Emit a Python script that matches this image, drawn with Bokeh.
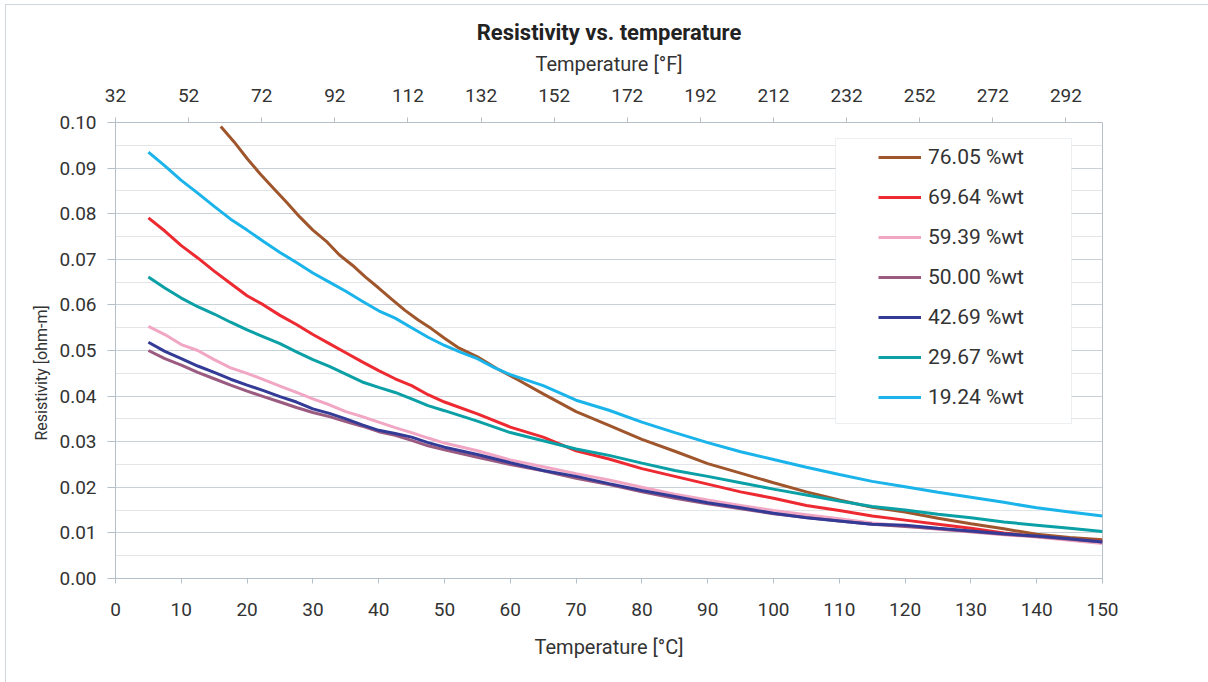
from bokeh.plotting import figure
from bokeh.models import (Range1d, LinearAxis, FixedTicker, PrintfTickFormatter,
                          Legend, LegendItem, BoxAnnotation, Title)
from bokeh.embed import file_html
from bokeh.resources import INLINE

# ---------------- data ----------------
C_TICKS = [0, 10, 20, 30, 40, 50, 60, 70, 80, 90, 100, 110, 120, 130, 140, 150]
F_TICKS = [32, 52, 72, 92, 112, 132, 152, 172, 192, 212, 232, 252, 272, 292]
R_TICKS = [0.00, 0.01, 0.02, 0.03, 0.04, 0.05, 0.06, 0.07, 0.08, 0.09, 0.10]
R_MINOR = [0.005, 0.015, 0.025, 0.035, 0.045, 0.055, 0.065, 0.075, 0.085, 0.095]

T_std = [5, 7.5, 10, 12.5, 15, 17.5, 20, 22.5, 25, 27.5, 30, 32.5, 35, 37.5, 40, 42.5, 45, 47.5, 50,
         55, 60, 65, 70, 75, 80, 85, 90, 95, 100, 105, 110, 115, 120, 125, 130, 135, 140, 145, 150]

T_7605 = [16, 18, 20, 22, 24, 26, 28, 30, 32, 34, 36, 38, 40, 42, 44, 46, 48, 50,
          52, 55, 58, 61, 65, 70, 75, 80, 85, 90, 95, 100, 105, 110, 115, 120, 125, 130, 135, 140, 145, 150]
R_7605 = [0.0991, 0.0958, 0.0921, 0.0887, 0.0856, 0.0825, 0.0793, 0.0764, 0.0740, 0.0710, 0.0687, 0.0661,
          0.0637, 0.0612, 0.0588, 0.0567, 0.0548, 0.0527,
          0.0507, 0.0486, 0.0460, 0.0437,
          0.0405, 0.0366, 0.0336, 0.0305, 0.0279, 0.0252, 0.0231, 0.0210, 0.0190, 0.0172, 0.0156, 0.0146,
          0.0132, 0.0120, 0.0109, 0.0097, 0.0090, 0.0085]

R_6964 = [0.0791, 0.0762, 0.0730, 0.0703, 0.0674, 0.0647, 0.0620, 0.0600, 0.0577, 0.0557, 0.0535, 0.0515,
          0.0495, 0.0475, 0.0456, 0.0438, 0.0423, 0.0403, 0.0387,
          0.0361, 0.0332, 0.0310, 0.0280, 0.0262, 0.0241, 0.0224, 0.0207, 0.0190, 0.0176, 0.0160, 0.0149,
          0.0137, 0.0128, 0.0119, 0.0110, 0.0100, 0.0092, 0.0086, 0.0081]

R_5939 = [0.0553, 0.0535, 0.0513, 0.0500, 0.0480, 0.0462, 0.0450, 0.0436, 0.0422, 0.0408, 0.0394, 0.0381,
          0.0366, 0.0355, 0.0343, 0.0331, 0.0320, 0.0308, 0.0297,
          0.0280, 0.0260, 0.0245, 0.0230, 0.0216, 0.0200, 0.0185, 0.0172, 0.0160, 0.0149, 0.0140, 0.0131,
          0.0122, 0.0115, 0.0108, 0.0102, 0.0096, 0.0091, 0.0084, 0.0077]

R_5000 = [0.0500, 0.0482, 0.0468, 0.0452, 0.0438, 0.0424, 0.0411, 0.0399, 0.0387, 0.0375, 0.0364, 0.0355,
          0.0344, 0.0334, 0.0322, 0.0314, 0.0303, 0.0291, 0.0282,
          0.0266, 0.0250, 0.0236, 0.0220, 0.0206, 0.0190, 0.0176, 0.0164, 0.0153, 0.0142, 0.0134, 0.0126,
          0.0119, 0.0114, 0.0109, 0.0103, 0.0097, 0.0092, 0.0086, 0.0080]

R_4269 = [0.0518, 0.0498, 0.0482, 0.0466, 0.0452, 0.0437, 0.0424, 0.0412, 0.0399, 0.0387, 0.0372, 0.0362,
          0.0350, 0.0337, 0.0325, 0.0318, 0.0310, 0.0298, 0.0288,
          0.0272, 0.0254, 0.0237, 0.0224, 0.0208, 0.0193, 0.0180, 0.0166, 0.0155, 0.0143, 0.0133, 0.0126,
          0.0119, 0.0117, 0.0110, 0.0104, 0.0098, 0.0093, 0.0087, 0.0080]

R_2967 = [0.0661, 0.0637, 0.0615, 0.0596, 0.0580, 0.0562, 0.0545, 0.0530, 0.0515, 0.0497, 0.0480, 0.0465,
          0.0448, 0.0431, 0.0419, 0.0408, 0.0394, 0.0379, 0.0368,
          0.0345, 0.0320, 0.0302, 0.0284, 0.0270, 0.0253, 0.0237, 0.0224, 0.0210, 0.0196, 0.0183, 0.0170,
          0.0158, 0.0150, 0.0141, 0.0133, 0.0124, 0.0117, 0.0110, 0.0103]

T_1924 = [5, 7.5, 10, 12.5, 15, 17.5, 20, 22.5, 25, 27.5, 30, 32.5, 35, 37.5, 40, 42.5, 45, 47.5, 50,
          52.5, 55, 57.5, 60, 65, 70, 75, 80, 85, 90, 95, 100, 105, 110, 115, 120, 125, 130, 135, 140, 145, 150]
R_1924 = [0.0935, 0.0905, 0.0873, 0.0845, 0.0816, 0.0788, 0.0764, 0.0739, 0.0715, 0.0693, 0.0670, 0.0650,
          0.0630, 0.0608, 0.0587, 0.0571, 0.0550, 0.0529, 0.0511,
          0.0496, 0.0482, 0.0463, 0.0447,
          0.0423, 0.0391, 0.0369, 0.0343, 0.0320, 0.0298, 0.0278, 0.0261, 0.0244, 0.0228, 0.0213, 0.0201,
          0.0189, 0.0178, 0.0167, 0.0155, 0.0146, 0.0137]

SERIES = [
    ("76.05 %wt", T_7605, R_7605, "#a0562c"),
    ("69.64 %wt", T_std, R_6964, "#ed2a31"),
    ("59.39 %wt", T_std, R_5939, "#f1a7c4"),
    ("50.00 %wt", T_std, R_5000, "#9b5a80"),
    ("42.69 %wt", T_std, R_4269, "#333b96"),
    ("29.67 %wt", T_std, R_2967, "#0aa0a6"),
    ("19.24 %wt", T_1924, R_1924, "#1ab4ea"),
]

# ---------------- styling ----------------
FONT = "Roboto"
TXT = "#333333"
AX = "#b4bfc8"

p = figure(width=1203, height=678, output_backend="svg", toolbar_location=None,
           x_range=Range1d(0, 150), y_range=Range1d(0, 0.10),
           min_border_left=110, min_border_right=106, min_border_top=118, min_border_bottom=104,
           title="Resistivity vs. temperature")
p.margin = (4, 0, 0, 5)
p.styles = {"box-shadow": "inset 1px 1px 0 0 #cfd7dd"}
p.border_fill_color = None
p.background_fill_color = "white"
p.outline_line_color = AX
p.outline_line_width = 1

p.title.align = "center"
p.title.text_font = FONT
p.title.text_font_size = "22px"
p.title.text_font_style = "bold"
p.title.text_color = "#222222"
p.title.standoff = 7

bottom_axis = p.xaxis[0]
left_axis = p.yaxis[0]

p.extra_x_ranges = {"F": Range1d(32, 302)}
top_axis = LinearAxis(x_range_name="F", ticker=FixedTicker(ticks=F_TICKS),
                      axis_label="Temperature [°F]")
p.add_layout(top_axis, "above")

bottom_axis.ticker = FixedTicker(ticks=C_TICKS)
bottom_axis.axis_label = "Temperature [°C]"
left_axis.ticker = FixedTicker(ticks=R_TICKS)
left_axis.formatter = PrintfTickFormatter(format="%.2f")

for ax in [bottom_axis, top_axis, left_axis]:
    ax.axis_line_color = AX
    ax.major_tick_line_color = AX
    ax.minor_tick_line_color = None
    ax.major_tick_in = 0
    ax.major_label_text_font = FONT
    ax.major_label_text_font_size = "19px"
    ax.major_label_text_color = TXT
    ax.axis_label_text_font = FONT
    ax.axis_label_text_font_size = "20px"
    ax.axis_label_text_font_style = "normal"
    ax.axis_label_text_color = TXT

left_axis.major_tick_out = 8
left_axis.major_label_standoff = 11
bottom_axis.major_tick_out = 5
bottom_axis.major_label_standoff = 19
bottom_axis.axis_label_standoff = 16
top_axis.major_tick_out = 5
top_axis.major_label_standoff = 16
top_axis.axis_label_standoff = 10

# y-axis title as a side title, so it can be offset like in the reference
ytitle = Title(text="Resistivity [ohm-m]", align="left", offset=138, standoff=11,
               text_font=FONT, text_font_size="16px", text_font_style="normal", text_color=TXT)
p.add_layout(ytitle, "left")

p.xgrid.visible = False
p.ygrid.ticker = FixedTicker(ticks=R_TICKS, minor_ticks=R_MINOR)
p.ygrid.grid_line_color = "#c9d0d6"
p.ygrid.minor_grid_line_color = "#e2e6e9"

renderers = []
for label, T, R, color in SERIES:
    r = p.line(T, R, line_width=3, color=color)
    renderers.append((label, r))

box = BoxAnnotation(left=720, right=956, top=440, bottom=155,
                    left_units="screen", right_units="screen", top_units="screen", bottom_units="screen",
                    fill_color="white", fill_alpha=1.0, line_color="#c5cdd3", line_width=1)
p.add_layout(box)

legend = Legend(items=[LegendItem(label=l, renderers=[r]) for l, r in renderers],
                location=(763, 169), padding=0, spacing=16, margin=0,
                glyph_width=43, glyph_height=20, label_height=20, label_standoff=7,
                border_line_color=None, background_fill_alpha=0,
                label_text_font=FONT, label_text_font_size="21px", label_text_color=TXT)
p.add_layout(legend, "center")

open("out.html", "w").write(file_html(p, INLINE))
